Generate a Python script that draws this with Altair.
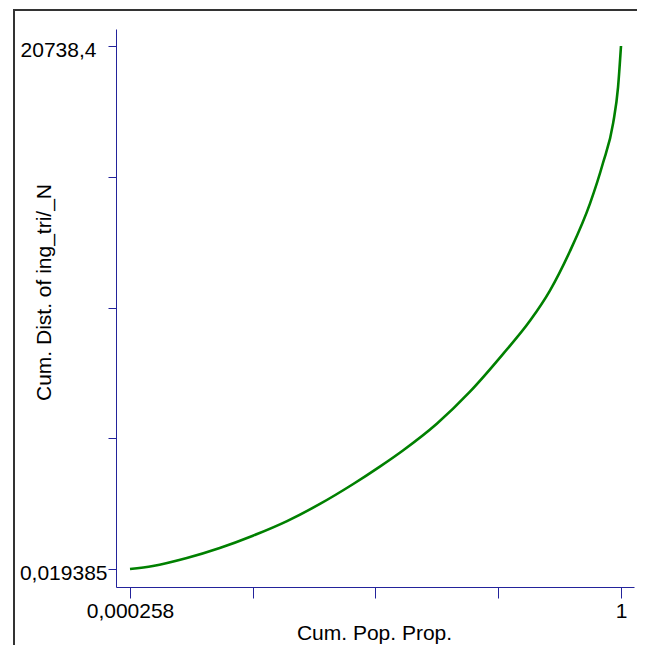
import altair as alt
import pandas as pd

# Values
pop_prop = [0.000258, 0.0468, 0.116, 0.183, 0.2505, 0.320, 0.387, 0.454, 0.509, 0.556,
            0.625, 0.692, 0.760, 0.815, 0.855, 0.896, 0.937, 0.963, 0.984, 0.994, 1.0]
cum_dist = [0.019385, 119, 436, 833, 1320, 1900, 2580, 3360, 4060, 4700,
            5760, 7020, 8530, 9850, 11030, 12600, 14500, 16080, 17680, 19110, 20738.4]

x_ticks = [0.000258, 0.25, 0.5, 0.75, 1.0]
y_ticks = [0.019385, 5184.6, 10369.2, 15553.8, 20738.4]
x_tick_labels = ["0,000258", "", "", "", "1"]
y_tick_labels = ["0,019385", "", "", "", "20738,4"]

df = pd.DataFrame({"x": pop_prop, "y": cum_dist})

def label_expr(ticks, labels):
    expr = "''"
    for t, l in zip(reversed(ticks), reversed(labels)):
        expr = f"abs(datum.value - {t}) < 1e-6 ? '{l}' : ({expr})"
    return expr

AXIS_COLOR = "#23239b"
FONT = "Liberation Sans"
FS = 21

curve = alt.Chart(df).mark_line(color="#008000", strokeWidth=2.6, interpolate="monotone").encode(
    x=alt.X("x:Q",
            scale=alt.Scale(domain=[-0.02825, 1.02647], nice=False, zero=False),
            axis=alt.Axis(values=x_ticks, labelExpr=label_expr(x_ticks, x_tick_labels),
                          title="Cum. Pop. Prop.", grid=False, zindex=1,
                          domainColor=AXIS_COLOR, tickColor=AXIS_COLOR, tickSize=11,
                          labelFont=FONT, labelFontSize=FS, labelColor="black",
                          labelPadding=2, labelFlush=False, labelOverlap=False,
                          titleFont=FONT, titleFontSize=FS, titleFontWeight="normal",
                          titleColor="black", titleBaseline="alphabetic", titleY=52,
                          titleX=258, titleAlign="center")),
    y=alt.Y("y:Q",
            scale=alt.Scale(domain=[-713.7, 21412.5], nice=False, zero=False),
            axis=alt.Axis(values=y_ticks, labelExpr=label_expr(y_ticks, y_tick_labels),
                          title="Cum. Dist. of ing_tri/_N", grid=False, zindex=1,
                          domainColor=AXIS_COLOR, tickColor=AXIS_COLOR, tickSize=8,
                          labelFont=FONT, labelFontSize=FS, labelColor="black",
                          labelBaseline="middle", labelOffset=4,
                          labelPadding={"condition": {"test": "datum.value < 1", "value": 1}, "value": 12},
                          labelFlush=False, labelOverlap=False,
                          titleFont=FONT, titleFontSize=FS, titleFontWeight="normal",
                          titleColor="black", titleAngle=270, titleBaseline="alphabetic",
                          titleAlign="center", titleX=-66, titleY=263)),
)

# The frame is the dark chart background left showing between white panels
panel = alt.Data(values=[{"a": 1}])
white_left = alt.Chart(panel).mark_rect(color="white", strokeWidth=0).encode(
    x=alt.value(-115), x2=alt.value(-103), y=alt.value(-30), y2=alt.value(700))
white_top = alt.Chart(panel).mark_rect(color="white", strokeWidth=0).encode(
    x=alt.value(-115), x2=alt.value(700), y=alt.value(-30), y2=alt.value(-20))
white_inner = alt.Chart(panel).mark_rect(color="white", strokeWidth=0).encode(
    x=alt.value(-101), x2=alt.value(700), y=alt.value(-18), y2=alt.value(700))

chart = alt.layer(white_left, white_top, white_inner, curve).properties(
    width=518, height=558,
    autosize=alt.AutoSizeParams(type="none"),
    padding={"left": 108, "top": 21, "right": 3, "bottom": 58},
    background="#333333",
).configure_view(stroke=None)

chart.save("out.html", embed_options={"renderer": "svg", "actions": False})
